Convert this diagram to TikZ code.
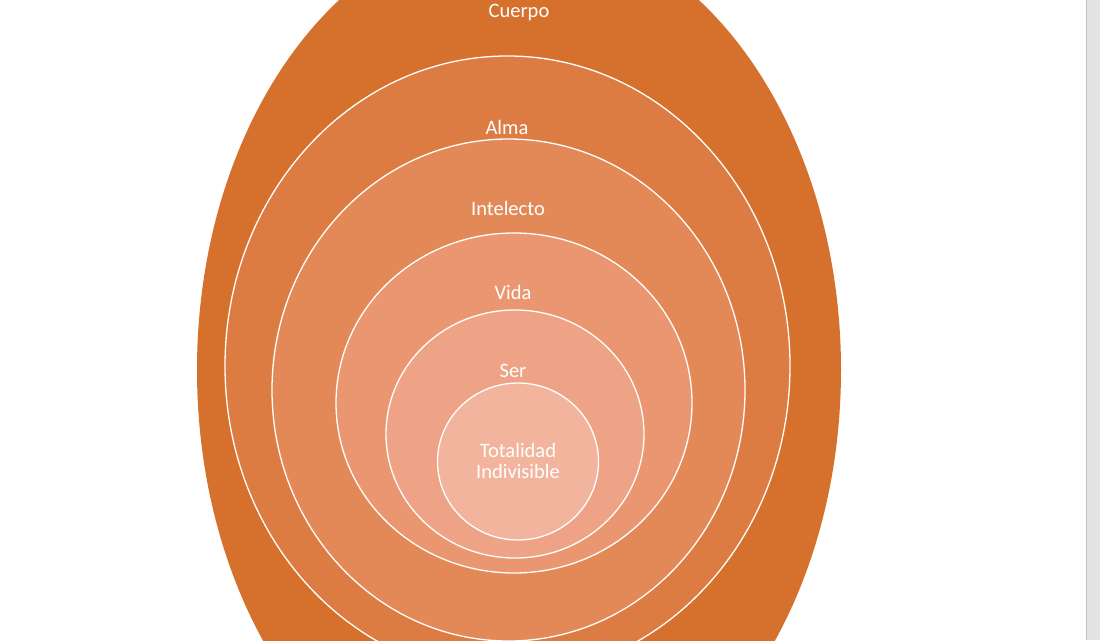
\documentclass[tikz,border=0pt]{standalone}
\usepackage{fontspec}
\setmainfont{Carlito}

\definecolor{cuerpoC}{HTML}{D6712D}
\definecolor{almaC}{HTML}{DC7C42}
\definecolor{intelectoC}{HTML}{E38958}
\definecolor{vidaC}{HTML}{E99671}
\definecolor{serC}{HTML}{EEA386}
\definecolor{totalC}{HTML}{F2B49C}
\definecolor{barraC}{HTML}{E3E3E3}
\definecolor{bordeC}{HTML}{C4C4C4}

\tikzset{
    capa/.style={draw=white, line width=1.3pt},
    etiqueta/.style={text=white, font=\fontsize{20.5}{21}\selectfont, align=center}
}

\begin{document}
\begin{tikzpicture}[x=1pt, y=-1pt]
    
    % Marco de la imagen
    \useasboundingbox (0,0) rectangle (1100,640);
    \clip (0,0) rectangle (1100,640);
    \fill[white] (0,0) rectangle (1100,640);
    
    % Barra lateral derecha
    \fill[barraC] (1086,0) rectangle (1100,640);
    \draw[bordeC, line width=1pt] (1086.5,0) -- (1086.5,640);
    
    % Capas (de fuera hacia dentro)
    \fill[cuerpoC] (519,370) ellipse [x radius=322pt, y radius=446pt];
    \draw[capa, fill=almaC] (507.5,366) ellipse [x radius=282.5pt, y radius=310pt];
    \draw[capa, fill=intelectoC] (508.5,390) ellipse [x radius=236.5pt, y radius=251pt];
    \draw[capa, fill=vidaC] (514,403) ellipse [x radius=178pt, y radius=170pt];
    \draw[capa, fill=serC] (515,434) ellipse [x radius=129pt, y radius=124pt];
    \draw[capa, fill=totalC] (518,461.5) ellipse [x radius=80.5pt, y radius=78.5pt];
    
    % Etiquetas
    \node[etiqueta] (cuerpo) at (519,12) {Cuerpo};
    \node[etiqueta] (alma) at (507,127) {Alma};
    \node[etiqueta] (intelecto) at (508,208) {Intelecto};
    \node[etiqueta] (vida) at (513,292) {Vida};
    \node[etiqueta] (ser) at (513,371) {Ser};
    \node[etiqueta] (totalidad) at (518,461) {Totalidad\\Indivisible};
    
\end{tikzpicture}
\end{document}
